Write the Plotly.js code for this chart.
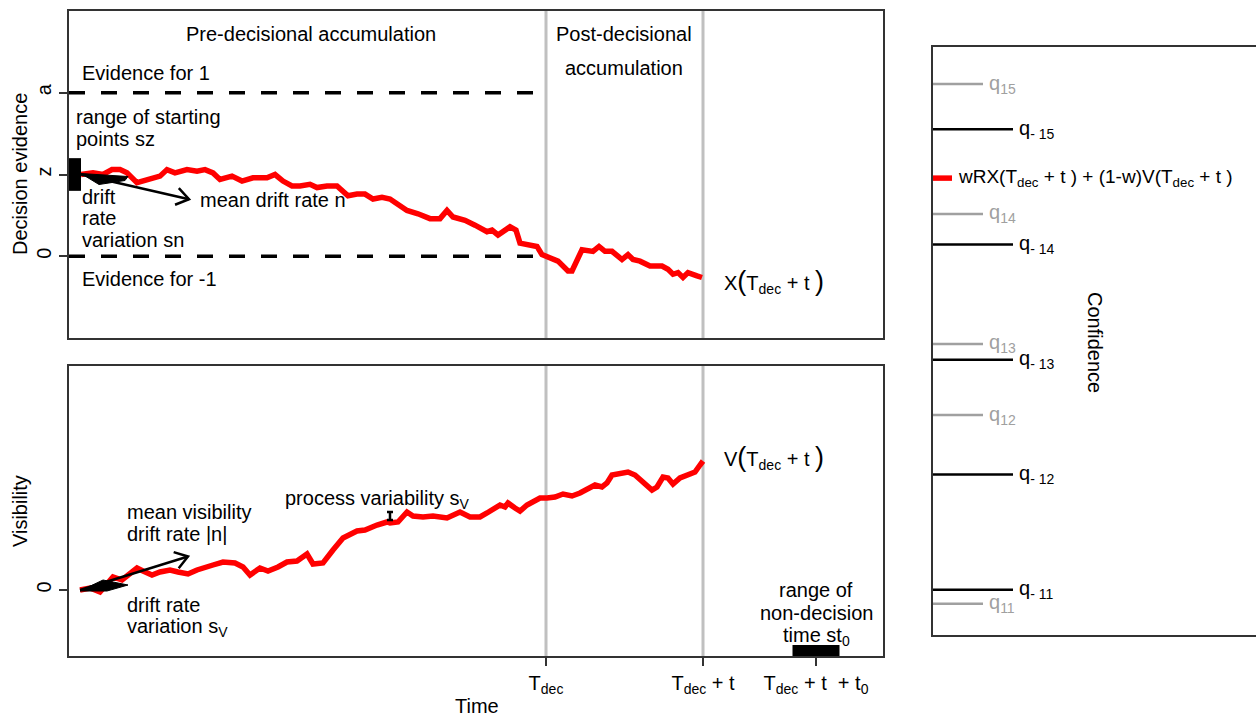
<!DOCTYPE html>
<html><head><meta charset="utf-8">
<script src="https://cdn.plot.ly/plotly-3.0.1.min.js"></script>
<style>html,body{margin:0;padding:0;background:#fff}#chart{width:1256px;height:717px}</style>
</head><body><div id="chart"></div>
<script>
// ---------------- data ----------------
// decision evidence X(t) (pre- and post-decisional)
const timeEvidence = [12,24,34,43,51,58,68,78,91,98,106,118,128,136,144,151,163,173,184,198,206,214,223,231,241,248,258,268,279,288,296,304,313,321,329,338,349,361,371,378,384,396,406,418,423,429,441,447,451,459,468,473,478,484,489,499,503,513,524,530,536,543,553,559,564,571,581,593,599,604,609,614,619,628,633];
const evidence = [0.50,0.51,0.50,0.53,0.53,0.51,0.45,0.47,0.49,0.53,0.51,0.53,0.52,0.53,0.51,0.47,0.49,0.46,0.48,0.48,0.50,0.46,0.43,0.43,0.44,0.42,0.43,0.43,0.37,0.38,0.38,0.35,0.36,0.35,0.32,0.28,0.26,0.23,0.23,0.28,0.24,0.22,0.19,0.15,0.16,0.13,0.18,0.16,0.08,0.07,0.06,0.01,0.00,-0.02,-0.03,-0.09,-0.09,0.04,0.03,0.06,0.03,0.03,-0.02,0.01,-0.02,-0.03,-0.06,-0.06,-0.08,-0.11,-0.10,-0.13,-0.10,-0.12,-0.13];
// visibility V(t)
const timeVisibility = [11,21,31,38,44,53,61,68,74,83,91,101,109,119,128,136,144,154,166,174,181,191,199,209,218,228,238,244,254,264,274,288,296,308,318,321,329,338,344,354,364,378,391,401,411,418,426,431,436,439,446,451,458,464,471,478,486,494,503,511,519,526,533,538,543,551,559,566,574,583,588,594,599,604,611,621,626,631,634];
const visibility = [0,0.02,-0.02,0.07,0.13,0.10,0.17,0.22,0.19,0.15,0.18,0.20,0.18,0.16,0.20,0.23,0.25,0.28,0.27,0.23,0.15,0.22,0.19,0.23,0.28,0.29,0.36,0.26,0.27,0.40,0.52,0.59,0.60,0.65,0.68,0.67,0.68,0.78,0.74,0.73,0.74,0.72,0.78,0.73,0.73,0.77,0.81,0.85,0.83,0.87,0.82,0.79,0.85,0.88,0.92,0.92,0.93,0.96,0.94,0.97,1.01,1.05,1.03,1.07,1.15,1.17,1.18,1.15,1.08,1.00,1.03,1.13,1.12,1.06,1.12,1.17,1.18,1.25,1.29];
// model parameters (schematic)
const boundaryA = 1;
const startZ = 0.5;
const startRangeSz = 0.2;
const tDec = 477;
const tPost = 157;
const tNonDecision = 113;
const rangeNonDecisionSt0 = 47;
const meanDriftEvidence = -0.0014;   // per time unit
const meanDriftVisibility = 0.0031;
const driftArrowLength = 108;
const svMarkTime = 321, svMarkLevel = 0.74, processSv = 0.04;
// tick labels
const evidenceTickVals = [0, startZ, boundaryA];
const evidenceTickLabels = ['0', 'z', 'a'];
const visibilityTickVals = [0];
const visibilityTickLabels = ['0'];
const timeTickVals = [tDec, tDec + tPost, tDec + tPost + tNonDecision];
const timeTickLabels = ['T<sub>dec</sub>', 'T<sub>dec</sub> + t', 'T<sub>dec</sub> + t \u00a0+ t<sub>0</sub>'];
// confidence thresholds
const thresholdsPos = [5.3, 37.4, 49.5, 71.6, 93.7];
const thresholdsPosLabels = ['q<sub>11</sub>','q<sub>12</sub>','q<sub>13</sub>','q<sub>14</sub>','q<sub>15</sub>'];
const thresholdsNeg = [7.7, 27.3, 46.8, 66.4, 86.0];
const thresholdsNegLabels = ['q<sub>- 11</sub>','q<sub>- 12</sub>','q<sub>- 13</sub>','q<sub>- 14</sub>','q<sub>- 15</sub>'];
const confidenceValue = 77.7;

// ---------------- layout geometry ----------------
const W = 1256, H = 717;
const PL = 69, PR = 883, TT = 11, TB = 338, BT = 366, BB = 656, RL = 933, RT = 47, RB = 635;
const XR = [0, PR - PL], YR1 = [-0.5, 1.5], YR2 = [-0.66, 2.24], X3R = [0, W - RL], Y3R = [0, 100];
const FONT = 'Liberation Sans, Arial, Helvetica, sans-serif';
const px = x => x / W, py = y => 1 - y / H;
const dx = x => PL + (x - XR[0]) / (XR[1] - XR[0]) * (PR - PL);
const dy1 = y => TB - (y - YR1[0]) / (YR1[1] - YR1[0]) * (TB - TT);
const dy2 = y => BB - (y - YR2[0]) / (YR2[1] - YR2[0]) * (BB - BT);

const traces = [];
// boundaries
[boundaryA, 0].forEach(v => traces.push({x: [0, tDec], y: [v, v], mode: 'lines', xaxis: 'x', yaxis: 'y',
  line: {color: '#000', width: 3.5, dash: '16px,16px'}, hoverinfo: 'skip'}));
traces.push({x: timeEvidence, y: evidence, mode: 'lines', xaxis: 'x', yaxis: 'y',
  line: {color: '#ff0000', width: 5.5}, hoverinfo: 'skip'});
traces.push({x: timeVisibility, y: visibility, mode: 'lines', xaxis: 'x2', yaxis: 'y2',
  line: {color: '#ff0000', width: 5.5}, hoverinfo: 'skip'});
traces.push({x: [svMarkTime], y: [svMarkLevel], mode: 'markers', xaxis: 'x2', yaxis: 'y2',
  marker: {size: 1, color: 'rgba(0,0,0,0)'},
  error_y: {type: 'data', array: [processSv], visible: true, color: '#000', thickness: 2.5, width: 3}, hoverinfo: 'skip'});
// confidence thresholds
thresholdsPos.forEach(v => traces.push({x: [0, 50], y: [v, v], mode: 'lines', xaxis: 'x3', yaxis: 'y3',
  line: {color: '#a0a0a0', width: 2.5}, hoverinfo: 'skip'}));
thresholdsNeg.forEach(v => traces.push({x: [0, 80], y: [v, v], mode: 'lines', xaxis: 'x3', yaxis: 'y3',
  line: {color: '#000', width: 2.5}, hoverinfo: 'skip'}));
traces.push({x: [0, 19], y: [confidenceValue, confidenceValue], mode: 'lines', xaxis: 'x3', yaxis: 'y3',
  line: {color: '#ff0000', width: 5.5}, hoverinfo: 'skip'});

// ---------------- shapes ----------------
const shapes = [];
[tDec, tDec + tPost].forEach(t => {
  shapes.push({type: 'line', xref: 'x', yref: 'y domain', x0: t, x1: t, y0: 0, y1: 1, line: {color: '#c0c0c0', width: 3}, layer: 'below'});
  shapes.push({type: 'line', xref: 'x2', yref: 'y2 domain', x0: t, x1: t, y0: 0, y1: 1, line: {color: '#c0c0c0', width: 3}, layer: 'below'});
});
shapes.push({type: 'rect', xref: 'x', yref: 'y', x0: 0, x1: timeEvidence[0], y0: startZ - startRangeSz / 2, y1: startZ + startRangeSz / 2,
  fillcolor: '#000', line: {width: 0}});
const stMid = tDec + tPost + tNonDecision;
shapes.push({type: 'rect', xref: 'x2', yref: 'y2 domain', x0: stMid - rangeNonDecisionSt0 / 2, x1: stMid + rangeNonDecisionSt0 / 2, y0: 0, y1: 0.038,
  fillcolor: '#000', line: {width: 0}});

function arrow(x0, y0, x1, y1) {
  const ang = Math.atan2(y1 - y0, x1 - x0), L = 15, a = 0.6;
  const w1 = [x1 - L * Math.cos(ang - a), y1 - L * Math.sin(ang - a)];
  const w2 = [x1 - L * Math.cos(ang + a), y1 - L * Math.sin(ang + a)];
  shapes.push({type: 'line', xref: 'paper', yref: 'paper', x0: px(x0), y0: py(y0), x1: px(x1), y1: py(y1), line: {color: '#000', width: 2.5}});
  shapes.push({type: 'path', xref: 'paper', yref: 'paper',
    path: `M${px(w1[0])},${py(w1[1])} L${px(x1)},${py(y1)} L${px(w2[0])},${py(w2[1])}`, line: {color: '#000', width: 2.5}});
}
function wedge(pts) {
  shapes.push({type: 'path', xref: 'paper', yref: 'paper', fillcolor: '#000', line: {color: '#000', width: 1},
    path: 'M' + pts.map(p => `${px(p[0])},${py(p[1])}`).join(' L') + ' Z'});
}
// drift-rate arrows and variation wedges
{
  const sx = dx(timeEvidence[0]), sy = dy1(startZ);
  const ex = dx(timeEvidence[0] + driftArrowLength), ey = dy1(startZ + meanDriftEvidence * driftArrowLength);
  arrow(sx, sy, ex, ey);
  wedge([[sx, sy - 1], [sx + 47, sy + 2], [sx + 44, sy + 6], [sx + 18, sy + 10]]);
}
{
  const sx = dx(timeVisibility[0]), sy = dy2(0);
  const ex = dx(timeVisibility[0] + driftArrowLength), ey = dy2(meanDriftVisibility * driftArrowLength);
  arrow(sx, sy, ex, ey);
  wedge([[sx, sy + 1], [sx + 23, sy - 10], [sx + 48, sy - 5], [sx + 27, sy + 1]]);
}

// ---------------- annotations ----------------
const ann = [];
function T(text, x, y, opt = {}) {
  ann.push(Object.assign({xref: 'paper', yref: 'paper', x: px(x), y: py(y), text, showarrow: false,
    xanchor: 'left', yanchor: 'middle', font: {family: FONT, size: 20, color: '#000'}}, opt));
}
const big = s => `<span style="font-size:27px">${s}</span>`;
T('Pre-decisional accumulation', 311, 34, {xanchor: 'center'});
T('Post-decisional', 624, 34, {xanchor: 'center'});
T('accumulation', 624, 68, {xanchor: 'center'});
T('Evidence for 1', 80, 73);
T('range of starting', 74, 117);
T('points sz', 74, 139);
T('drift', 80, 197);
T('rate', 80, 218);
T('variation sn', 80, 240);
T('mean drift rate n', 198, 200);
T('Evidence for -1', 80, 279);
T('X' + big('(') + 'T<sub>dec</sub> + t ' + big(')'), 722, 281);
T('process variability s<sub>V</sub>', 283, 499);
T('mean visibility', 125, 512);
T('drift rate |n|', 125, 534);
T('drift rate', 125, 605);
T('variation s<sub>V</sub>', 125, 627);
T('V' + big('(') + 'T<sub>dec</sub> + t ' + big(')'), 722, 457);
T('range of', 816, 590, {xanchor: 'center'});
T('non-decision', 816, 613, {xanchor: 'center'});
T('time st<sub>0</sub>', 816, 636, {xanchor: 'center'});
T('Time', 477, 706, {xanchor: 'center'});
T('Decision evidence', 20, 174, {xanchor: 'center', textangle: -90});
T('Visibility', 20, 511, {xanchor: 'center', textangle: -90});
T('Confidence', 1095, 342, {xanchor: 'center', textangle: 90});
thresholdsPos.forEach((v, i) => ann.push({xref: 'x3', yref: 'y3', x: 54, y: v, text: thresholdsPosLabels[i], showarrow: false,
  xanchor: 'left', yanchor: 'middle', font: {family: FONT, size: 20, color: '#a0a0a0'}}));
thresholdsNeg.forEach((v, i) => ann.push({xref: 'x3', yref: 'y3', x: 84, y: v, text: thresholdsNegLabels[i], showarrow: false,
  xanchor: 'left', yanchor: 'middle', font: {family: FONT, size: 20, color: '#000'}}));
ann.push({xref: 'x3', yref: 'y3', x: 23, y: confidenceValue, showarrow: false, xanchor: 'left', yanchor: 'middle',
  text: 'wRX(T<sub>dec</sub> + t ) + (1-w)V(T<sub>dec</sub> + t )', font: {family: FONT, size: 19, color: '#000'}});

// ---------------- axes ----------------
const axBase = {showgrid: false, zeroline: false, showline: true, linecolor: '#333', linewidth: 2, fixedrange: true};
const layout = {
  width: W, height: H, margin: {l: 0, r: 0, t: 0, b: 0}, paper_bgcolor: '#fff', plot_bgcolor: '#fff',
  showlegend: false, hovermode: false, font: {family: FONT, size: 20, color: '#000'},
  xaxis: Object.assign({}, axBase, {domain: [px(PL), px(PR)], range: XR, anchor: 'y', mirror: true, ticks: '', showticklabels: false}),
  yaxis: Object.assign({}, axBase, {domain: [py(TB), py(TT)], range: YR1, anchor: 'x', mirror: true,
    tickvals: evidenceTickVals, ticktext: evidenceTickLabels, ticks: 'outside', ticklen: 8, tickwidth: 2, tickcolor: '#333',
    tickangle: -90, tickfont: {family: FONT, size: 20, color: '#000'}}),
  xaxis2: Object.assign({}, axBase, {domain: [px(PL), px(PR)], range: XR, anchor: 'y2', mirror: true,
    tickvals: timeTickVals, ticktext: timeTickLabels, ticks: 'outside', ticklen: 8, tickwidth: 2, tickcolor: '#333',
    tickangle: 0, tickfont: {family: FONT, size: 20, color: '#000'}}),
  yaxis2: Object.assign({}, axBase, {domain: [py(BB), py(BT)], range: YR2, anchor: 'x2', mirror: true,
    tickvals: visibilityTickVals, ticktext: visibilityTickLabels, ticks: 'outside', ticklen: 8, tickwidth: 2, tickcolor: '#333',
    tickangle: -90, tickfont: {family: FONT, size: 20, color: '#000'}}),
  xaxis3: Object.assign({}, axBase, {domain: [px(RL), 1], range: X3R, anchor: 'y3', mirror: true, ticks: '', showticklabels: false}),
  yaxis3: Object.assign({}, axBase, {domain: [py(RB), py(RT)], range: Y3R, anchor: 'x3', mirror: false, ticks: '', showticklabels: false}),
  shapes, annotations: ann
};
Plotly.newPlot('chart', traces, layout, {displayModeBar: false, staticPlot: true});
</script></body></html>
